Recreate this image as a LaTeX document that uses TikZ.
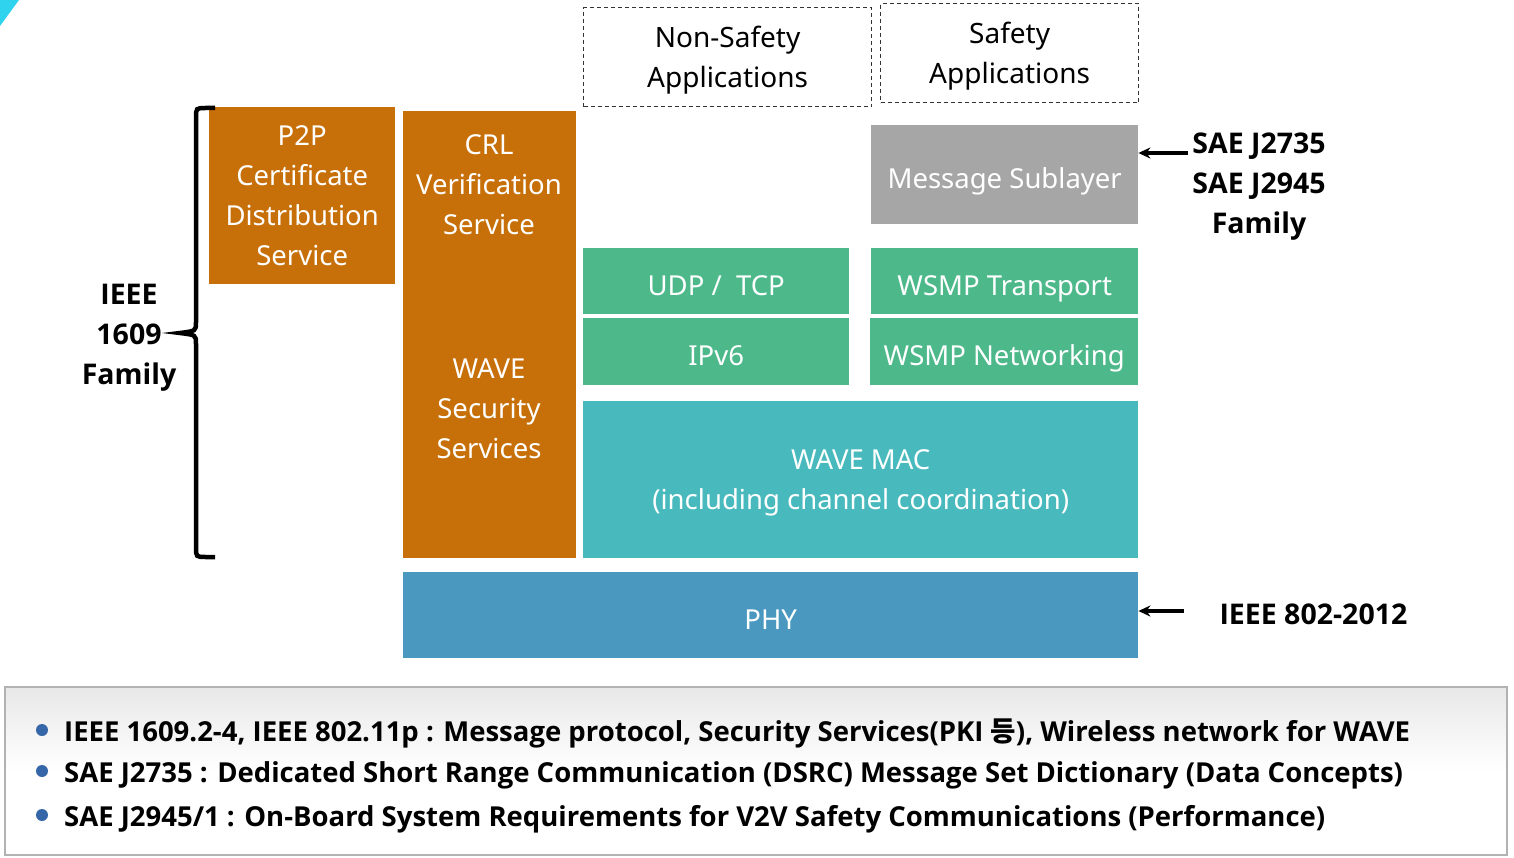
\documentclass[tikz,border=0pt]{standalone}
\usepackage{fontspec}
\setmainfont{Noto Sans}
\newfontfamily\labelfont{Open Sans}
\newfontfamily\krfont{Noto Sans CJK KR}
\usetikzlibrary{arrows.meta,positioning}

\definecolor{secorange}{HTML}{C76F08}
\definecolor{netgreen}{HTML}{4DB98A}
\definecolor{macteal}{HTML}{48BABD}
\definecolor{phyblue}{HTML}{4A98BF}
\definecolor{subgray}{HTML}{A6A6A6}
\definecolor{bulletblue}{HTML}{3466A8}
\definecolor{cornercyan}{HTML}{2FD3EE}

\tikzset{
  layer/.style={anchor=north west,inner sep=0pt,text=white,align=center,text depth=0pt,
    execute at begin node=\rule{0pt}{28pt},font=\fontsize{27.5}{40}\selectfont},
  layertext/.style={text=white,align=center,text depth=0pt,font=\fontsize{27.5}{40}\selectfont},
  appbox/.style={anchor=north west,inner sep=0pt,align=center,draw=black!80,text depth=0pt,
    execute at begin node=\rule{0pt}{28pt},
    line width=1.3pt,dash pattern=on 4pt off 3pt,font=\fontsize{28}{40}\selectfont},
  stdlabel/.style={align=center,text depth=0pt,font=\labelfont\bfseries\fontsize{28.5}{40}\selectfont},
  noteline/.style={anchor=base west,inner sep=0pt,font=\labelfont\bfseries\fontsize{27.5}{30}\selectfont},
  pointer/.style={line width=3.5pt,-{Stealth[length=12pt,width=11pt]}}
}

\begin{document}
\begin{tikzpicture}[x=1pt,y=-1pt]
\useasboundingbox (0,0) rectangle (1514,858);

% corner mark
\fill[cornercyan] (0,0) -- (19,0) -- (0,26) -- cycle;

% application boxes
\node[appbox,minimum width=288pt,minimum height=99pt] (nonsafe) at (583,7) {Non-Safety\\Applications};
\node[appbox,minimum width=258pt,minimum height=99pt] (safe) at (880,3) {Safety\\Applications};

% security services
\node[layer,fill=secorange,minimum width=186pt,minimum height=177pt] (p2p) at (209,107) {P2P\\Certificate\\Distribution\\Service};
\node[layer,fill=secorange,minimum width=173pt,minimum height=447pt] (sec) at (403,111) {};
\node[layertext] (crl) at (489,185) {CRL\\Verification\\Service};
\node[layertext] (wss) at (489,409) {WAVE\\Security\\Services};

% protocol stack
\node[layer,fill=subgray,minimum width=267pt,minimum height=99pt] (msg) at (871,125) {Message Sublayer};
\node[layer,fill=netgreen,minimum width=266pt,minimum height=66pt] (udp) at (583,248) {UDP /\ \ TCP};
\node[layer,fill=netgreen,minimum width=267pt,minimum height=66pt] (wsmpt) at (871,248) {WSMP Transport};
\node[layer,fill=netgreen,minimum width=266pt,minimum height=67pt] (ipv6) at (583,318) {IPv6};
\node[layer,fill=netgreen,minimum width=268pt,minimum height=67pt] (wsmpn) at (870,318) {WSMP Networking};
\node[layer,fill=macteal,minimum width=555pt,minimum height=157pt] (mac) at (583,401) {WAVE MAC\\(including channel coordination)};
\node[layer,fill=phyblue,minimum width=735pt,minimum height=86pt] (phy) at (403,572) {PHY};

% standard families
\node[stdlabel] (ieee1609) at (129,334) {IEEE\\1609\\Family};
\draw[line width=4.5pt] (215,108) -- (206,108) .. controls (196,108) .. (196,118) -- (196,322)
  .. controls (196,331) .. (180,333) .. controls (196,335) .. (196,344) -- (196,547)
  .. controls (196,557) .. (206,557) -- (215,557);

\node[stdlabel] (sae) at (1259,183) {SAE J2735\\SAE J2945\\Family};
\coordinate (saetail) at (1188,153);
\draw[pointer] (saetail) -- (saetail -| msg.east);

\node[stdlabel,anchor=west] (ieee802) at (1216,614) {IEEE 802-2012};
\coordinate (phytail) at (1184,611);
\draw[pointer] (phytail) -- (phytail -| phy.east);

% notes
\draw[black!30,line width=1.2pt,top color=black!9,bottom color=white,middle color=white]
  (5,687) rectangle (1507,855);
\foreach \yy/\txt [count=\i] in {741/{IEEE 1609.2-4, IEEE 802.11p : Message protocol, Security Services(PKI {\krfont\bfseries 등}), Wireless network for WAVE},
  782/{SAE J2735 : Dedicated Short Range Communication (DSRC) Message Set Dictionary (Data Concepts)},
  826/{SAE J2945/1 : On-Board System Requirements for V2V Safety Communications (Performance)}} {
  \fill[bulletblue] (42,\yy-11) circle (6pt);
  \node[noteline] (note\i) at (64,\yy) {\txt};
}
\end{tikzpicture}
\end{document}
